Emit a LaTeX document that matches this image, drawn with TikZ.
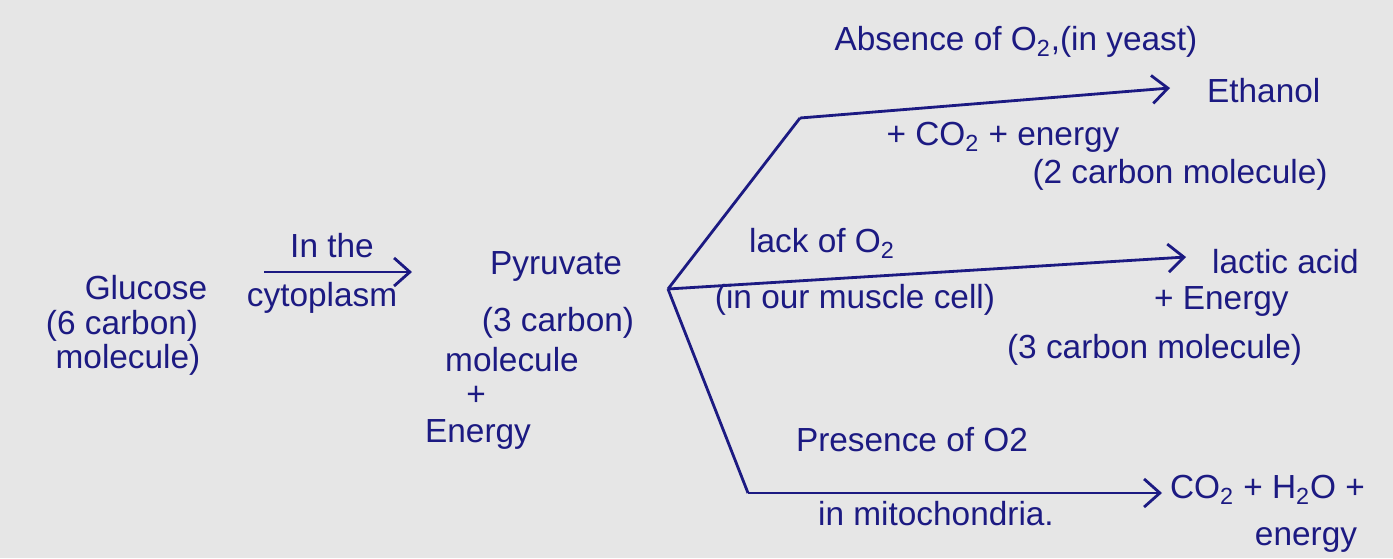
\documentclass[tikz,border=0pt]{standalone}
\usepackage{fontspec}
\setmainfont{Liberation Sans}
\usepackage{xcolor}
\usetikzlibrary{positioning, calc, arrows.meta}

\definecolor{ink}{RGB}{28,26,130}
\definecolor{paper}{RGB}{230,230,230}

\tikzset{
    hand/.style={text=ink, inner sep=1pt, font=\fontsize{19}{21}\selectfont},
    flow/.style={draw=ink, line width=1.6pt, -{Straight Barb[length=9pt,width=16pt,line width=1.6pt]}},
    branch/.style={draw=ink, line width=1.6pt}
}

\begin{document}
\begin{tikzpicture}[x=0.02cm, y=-0.02cm]

        % background / page size
        \path[use as bounding box, fill=paper] (0,0) rectangle (1393,558);

        % ==========================================
        % Glucose -> Pyruvate
        % ==========================================
        \node[hand] (glucose) at (146,288) {Glucose};
        \node[hand] (sixc) at (122,326) {(6 carbon)};
        \node[hand] (glumol) at (128,360) {molecule)};

        \coordinate (cytoA) at (264,272);
        \coordinate (cytoB) at (412,272);
        \draw[flow] (cytoA) -- (cytoB);
        \node[hand] (inthe) at (332,246) {In the};
        \node[hand] (cyto) at (322,298) {cytoplasm};

        \node[hand] (pyruvate) at (556,266) {Pyruvate};
        \node[hand] (threec) at (558,323) {(3 carbon)};
        \node[hand] (pyrmol) at (512,360) {molecule};
        \node[hand] (plus) at (476,396) {+};
        \node[hand] (pyren) at (478,434) {Energy};

        % ==========================================
        % Branches
        % ==========================================
        \coordinate (apex) at (668,289);
        \coordinate (upK) at (800,118);
        \coordinate (upE) at (1170,88);
        \coordinate (midE) at (1186,257);
        \coordinate (lowK) at (748,493);
        \coordinate (lowE) at (1162,493);

        % Absence of O2 (yeast)
        \draw[branch] (apex) -- (upK);
        \draw[flow] (upK) -- (upE);
        \node[hand] (absence) at (1016,42) {Absence of O\textsubscript{2},(in yeast)};
        \node[hand, anchor=west] (ethanol) at (1205,91) {Ethanol};
        \node[hand] (co2en) at (1003,137) {+ CO\textsubscript{2} + energy};
        \node[hand] (twoc) at (1180,175) {(2 carbon molecule)};

        % Lack of O2 (muscle)
        \draw[flow] (apex) -- (midE);
        \node[hand] (lack) at (822,243) {lack of O\textsubscript{2}};
        \node[hand] (muscle) at (855,300) {(in our muscle cell)};
        \node[hand, anchor=west] (lactic) at (1210,262) {lactic acid};
        \node[hand, anchor=west] (lacen) at (1152,301) {+ Energy};
        \node[hand, anchor=west] (threecm) at (1005,350) {(3 carbon molecule)};

        % Presence of O2 (mitochondria)
        \draw[branch] (apex) -- (lowK);
        \draw[flow] (lowK) -- (lowE);
        \node[hand] (presence) at (912,440) {Presence of O2};
        \node[hand] (mito) at (936,514) {in mitochondria.};
        \node[hand, anchor=west] (co2h2o) at (1168,490) {CO\textsubscript{2} + H\textsubscript{2}O +};
        \node[hand] (aeren) at (1306,540) {energy};

\end{tikzpicture}
\end{document}
